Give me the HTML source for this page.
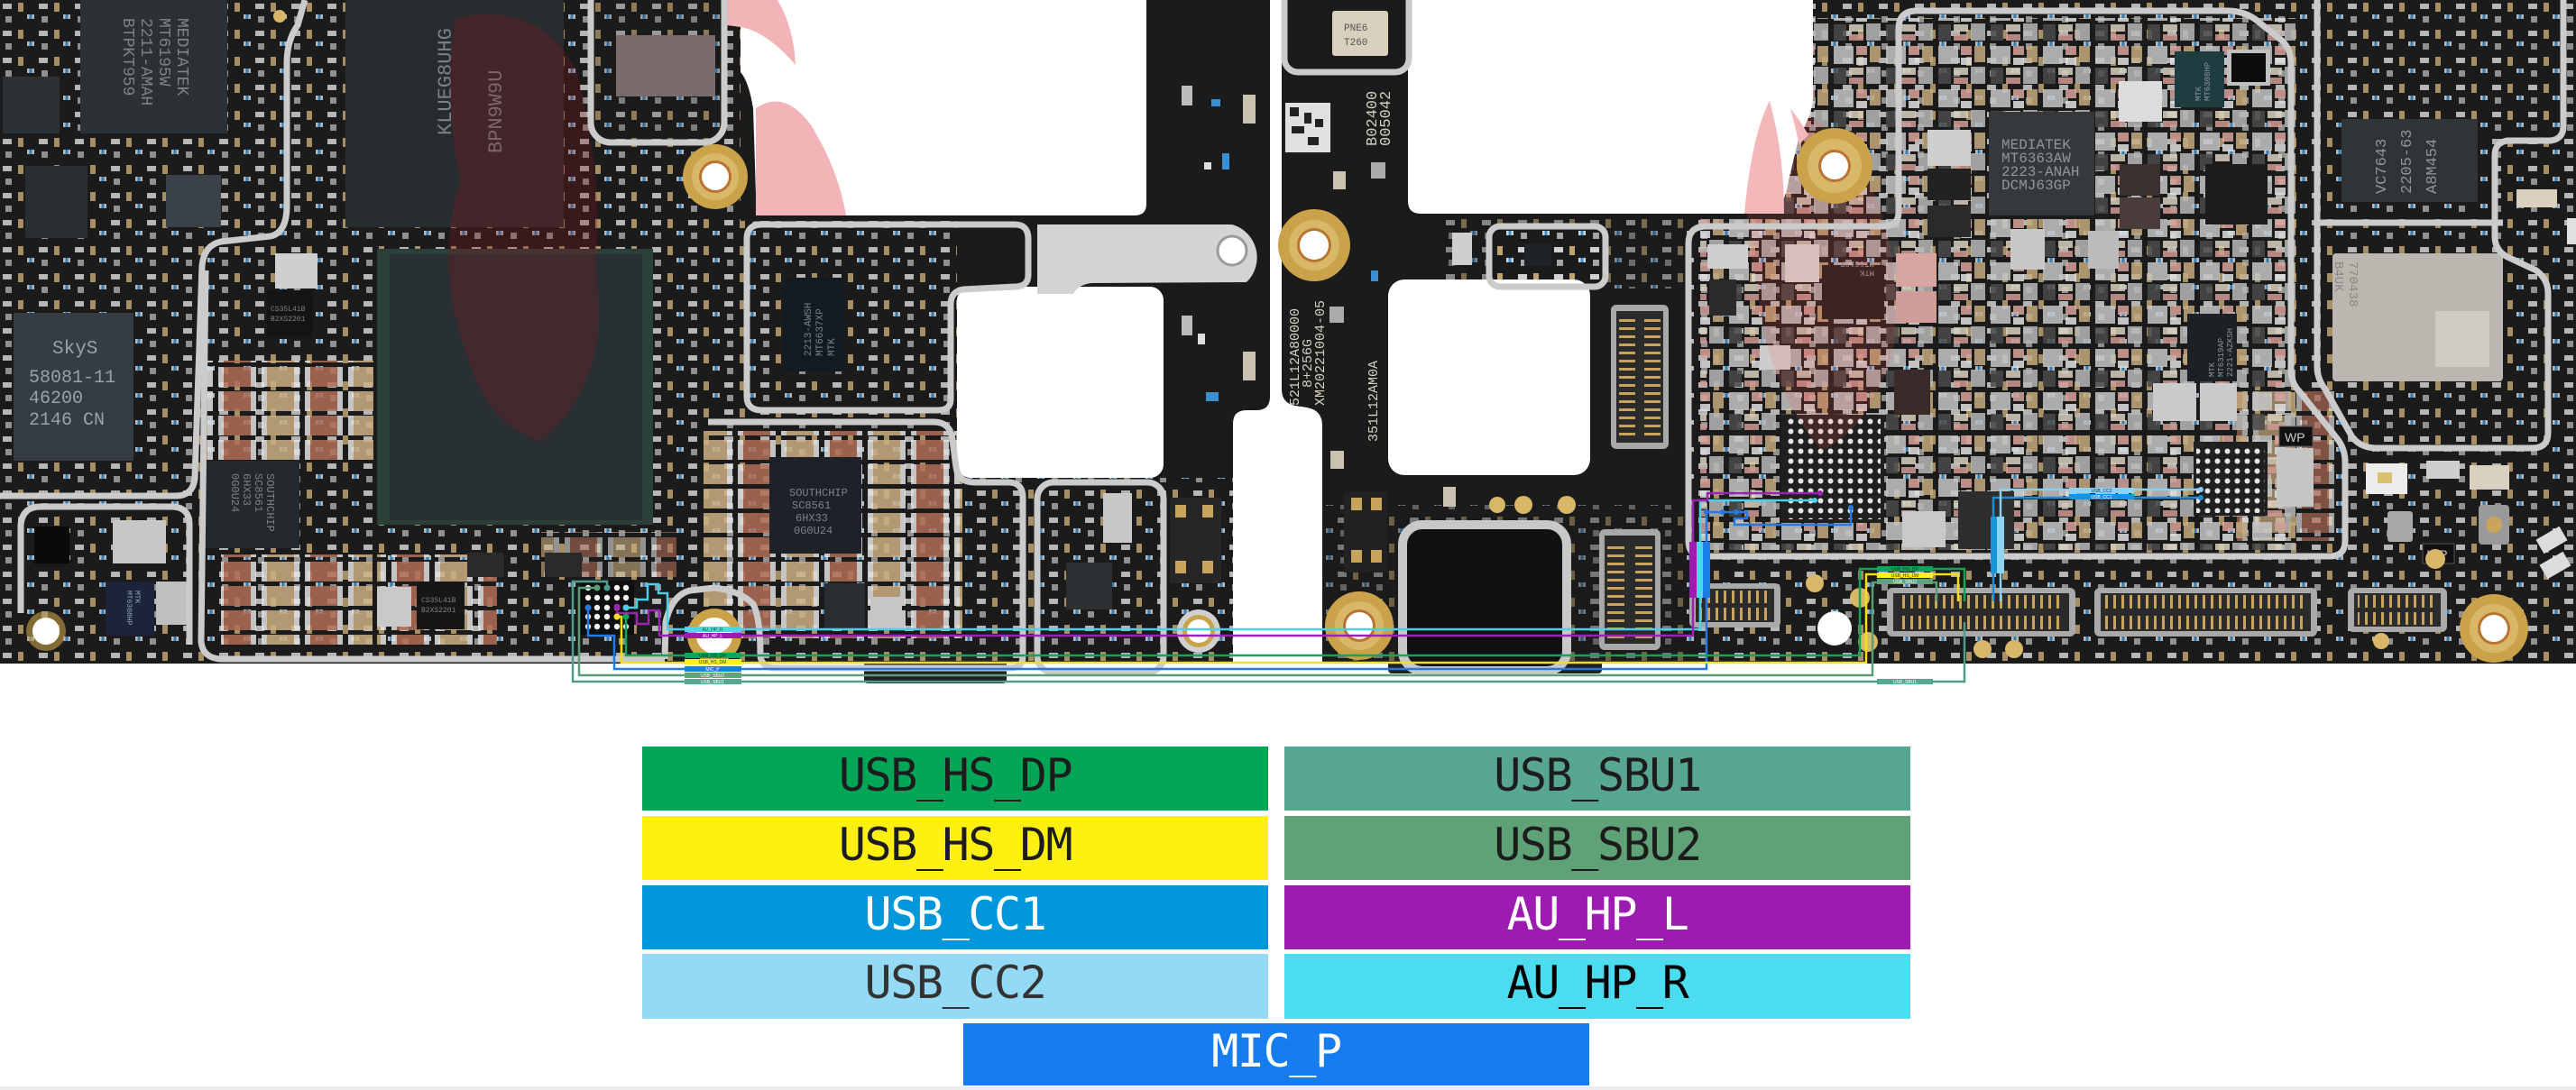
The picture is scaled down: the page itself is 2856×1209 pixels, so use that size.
<!DOCTYPE html>
<html>
<head>
<meta charset="utf-8">
<style>
html,body{margin:0;padding:0;background:#fff;}
body{width:2856px;height:1209px;position:relative;overflow:hidden;}
svg{position:absolute;left:0;top:0;}
.lg{position:absolute;width:694px;height:71px;display:flex;align-items:center;justify-content:center;font-family:"DejaVu Sans Mono","Liberation Mono",monospace;font-size:50px;letter-spacing:-1.4px;white-space:nowrap;}
.lg span{position:relative;top:-4px;}
.band{position:absolute;left:0;top:1205px;width:2856px;height:4px;background:#ececec;}
</style>
</head>
<body>
<svg width="2856" height="780" viewBox="0 0 2856 780" xmlns="http://www.w3.org/2000/svg">
<defs>
<pattern id="ps" width="40" height="30" patternUnits="userSpaceOnUse">
 <rect x="3" y="4" width="10" height="6" fill="#cfcfcf"/>
 <rect x="20" y="3" width="6" height="10" fill="#bfa272"/>
 <rect x="30" y="16" width="8" height="5" fill="#d5d5d5"/><rect x="32.5" y="16" width="3" height="5" fill="#3a8fd0"/>
 <rect x="6" y="18" width="7" height="7" fill="#a5a5a5"/>
</pattern>
<pattern id="pc" width="96" height="27" patternUnits="userSpaceOnUse">
 <rect x="2" y="2" width="42" height="22" fill="#cdb083"/><rect x="2" y="2" width="6" height="22" fill="#e6e6e6"/><rect x="38" y="2" width="6" height="22" fill="#e6e6e6"/>
 <rect x="50" y="2" width="42" height="22" fill="#b06e58"/><rect x="50" y="2" width="6" height="22" fill="#e2e2e2"/><rect x="86" y="2" width="6" height="22" fill="#e2e2e2"/>
</pattern>
<pattern id="pd" width="58" height="48" patternUnits="userSpaceOnUse">
 <rect x="3" y="3" width="22" height="20" fill="#c6c6c6"/>
 <rect x="28" y="3" width="12" height="10" fill="#d6a39e"/>
 <rect x="43" y="3" width="12" height="18" fill="#c4aa80"/>
 <rect x="28" y="16" width="12" height="8" fill="#e0e0e0"/>
 <rect x="3" y="27" width="14" height="18" fill="#4a4a4a"/>
 <rect x="20" y="27" width="16" height="8" fill="#d8cfbc"/>
 <rect x="20" y="38" width="16" height="7" fill="#cf9a95"/>
 <rect x="39" y="26" width="16" height="19" fill="#b8b8b8"/>
</pattern>
<pattern id="pinH" width="9" height="16" patternUnits="userSpaceOnUse"><rect x="3" y="0" width="3" height="16" fill="#c9a45c"/></pattern>
<pattern id="pinV" width="16" height="9" patternUnits="userSpaceOnUse"><rect x="0" y="3" width="16" height="3" fill="#c9a45c"/></pattern>
<pattern id="bga" width="11" height="11" patternUnits="userSpaceOnUse"><circle cx="5.5" cy="5.5" r="3" fill="#e6e6e6"/></pattern>
</defs>

<!-- board bases -->
<path d="M0,0 H1408 V440 Q1408,455 1393,455 H1382 Q1367,455 1367,470 V736 H0 Z" fill="#1b1b1b"/>
<rect x="958" y="728" width="158" height="30" rx="4" fill="#222"/>
<path d="M1421,0 H2856 V736 H1466 V472 Q1466,455 1449,452 L1436,450 Q1421,447 1421,432 Z" fill="#1b1b1b"/>
<rect x="1539" y="728" width="237" height="19" rx="4" fill="#222"/>

<!-- component texture -->
<g opacity="0.85">
<rect x="0" y="0" width="821" height="736" fill="url(#ps)"/>
<rect x="821" y="245" width="240" height="491" fill="url(#ps)"/>
<rect x="1061" y="530" width="306" height="206" fill="url(#ps)"/>
<rect x="1870" y="0" width="986" height="736" fill="url(#ps)"/>
<rect x="1466" y="560" width="404" height="176" fill="url(#ps)" opacity="0.6"/>
<rect x="1600" y="240" width="270" height="80" fill="url(#ps)" opacity="0.7"/>
</g>
<g opacity="0.85">
<rect x="224" y="400" width="190" height="110" fill="url(#pc)"/>
<rect x="245" y="615" width="168" height="100" fill="url(#pc)"/>
<rect x="418" y="615" width="133" height="100" fill="url(#pc)"/>
<rect x="780" y="478" width="287" height="230" fill="url(#pc)"/>
<rect x="600" y="590" width="150" height="50" fill="url(#pc)" opacity="0.7"/>
<rect x="2480" y="430" width="110" height="170" fill="url(#pc)" opacity="0.8"/>
</g>
<rect x="1885" y="20" width="660" height="590" fill="url(#pd)" opacity="0.85"/>

<!-- left board chips -->
<rect x="89" y="0" width="163" height="148" fill="#2c3135"/>
<rect x="3" y="85" width="63" height="63" fill="#2c3135"/>
<rect x="383" y="0" width="242" height="252" fill="#272c2e"/>
<rect x="28" y="184" width="69" height="80" fill="#2a2f33"/>
<rect x="184" y="194" width="61" height="58" fill="#3a4149"/>
<rect x="15" y="347" width="133" height="164" fill="#353c43"/>
<rect x="418" y="276" width="306" height="306" fill="#2c4038"/>
<rect x="432" y="282" width="280" height="295" fill="#283033"/>
<rect x="224" y="511" width="108" height="97" fill="#24292d"/>
<rect x="296" y="322" width="51" height="53" fill="#151515"/>
<rect x="305" y="281" width="47" height="39" fill="#cfcfcf"/>
<rect x="655" y="0" width="148" height="158" fill="#1b1b1b"/>
<rect x="655" y="0" width="148" height="158" fill="url(#ps)" opacity="0.7"/>
<rect x="683" y="39" width="110" height="68" fill="#7a6a6c"/>
<rect x="117" y="645" width="54" height="60" fill="#1b2438"/>
<rect x="125" y="577" width="59" height="48" fill="#c6c6c6"/>
<rect x="173" y="645" width="38" height="48" fill="#bfbfbf"/>
<rect x="38" y="584" width="39" height="41" fill="#0a0a0a"/>
<rect x="462" y="645" width="53" height="53" fill="#161616"/>
<rect x="418" y="651" width="38" height="44" fill="#c9c9c9"/>
<rect x="518" y="613" width="41" height="27" fill="#2a2a2a"/>
<rect x="604" y="613" width="41" height="27" fill="#2a2a2a"/>
<rect x="869" y="308" width="67" height="104" fill="#101b24"/>
<rect x="853" y="507" width="102" height="107" fill="#1c2227"/>
<rect x="914" y="647" width="45" height="50" fill="#2a2e33"/>
<rect x="965" y="662" width="35" height="35" fill="#c6c6c6"/>
<rect x="1182" y="624" width="51" height="52" fill="#2c3033"/>
<rect x="1223" y="547" width="32" height="55" fill="#c8c8c8"/>
<rect x="1297" y="552" width="57" height="95" fill="#262626"/>
<rect x="1303" y="560" width="12" height="14" fill="#c9a45c"/><rect x="1333" y="560" width="12" height="14" fill="#c9a45c"/>
<rect x="1303" y="622" width="12" height="14" fill="#c9a45c"/><rect x="1333" y="622" width="12" height="14" fill="#c9a45c"/>
<!-- sparse strip parts -->
<rect x="1310" y="95" width="12" height="22" fill="#bcbcbc"/><rect x="1378" y="105" width="14" height="32" fill="#c9c2b0"/>
<rect x="1343" y="110" width="10" height="8" fill="#3a8fd0"/><rect x="1355" y="170" width="8" height="18" fill="#3a8fd0"/>
<rect x="1310" y="350" width="12" height="22" fill="#bcbcbc"/><rect x="1378" y="390" width="14" height="32" fill="#c9c2b0"/>
<rect x="1337" y="435" width="14" height="10" fill="#3a8fd0"/>
<rect x="1328" y="370" width="8" height="12" fill="#ddd"/><rect x="1335" y="180" width="8" height="8" fill="#ddd"/>

<!-- chip text left -->
<g font-family="Liberation Mono, monospace" fill="#7b8389">
 <g transform="translate(197,20) rotate(90)" font-size="18"><text x="0" y="0">MEDIATEK</text><text x="0" y="20">MT6195W</text><text x="0" y="40">2211-AMAH</text><text x="0" y="60">BTPKT959</text></g>
 <g transform="translate(500,150) rotate(-90)" font-size="22"><text x="0" y="0">KLUEG8UHG</text><text x="-20" y="56">BPN9W9U</text></g>
 <text x="58" y="392" font-size="21" fill="#9aa1a8">SkyS</text>
 <text x="32" y="424" font-size="20" fill="#9aa1a8">58081-11</text>
 <text x="32" y="447" font-size="20" fill="#9aa1a8">46200</text>
 <text x="32" y="471" font-size="20" fill="#9aa1a8">2146 CN</text>
 <g transform="translate(296,525) rotate(90)" font-size="12"><text x="0" y="0">SOUTHCHIP</text><text x="0" y="13">SC8561</text><text x="0" y="26">6HX33</text><text x="0" y="39">0G0U24</text></g>
 <text x="875" y="550" font-size="12">SOUTHCHIP</text><text x="878" y="564" font-size="12">SC8561</text><text x="882" y="578" font-size="12">6HX33</text><text x="880" y="592" font-size="12">0G0U24</text>
 <g transform="translate(925,395) rotate(-90)" font-size="11"><text x="0" y="0">MTK</text><text x="0" y="-13">MT6637XP</text><text x="0" y="-26">2213-AWSH</text></g>
 <text x="300" y="345" font-size="8">CS35L41B</text><text x="300" y="356" font-size="8">B2XS2201</text>
 <text x="467" y="668" font-size="8">CS35L41B</text><text x="467" y="679" font-size="8">B2XS2201</text>
 <g transform="translate(150,655) rotate(90)" font-size="8" fill="#9aa6c0"><text x="0" y="0">MTK</text><text x="0" y="9">MT6308HP</text></g>
</g>

<!-- right board chips -->
<rect x="1424" y="0" width="138" height="80" fill="#1b1b1b"/>
<rect x="1477" y="12" width="62" height="50" rx="3" fill="#d9d0bd"/>
<text x="1490" y="34" font-family="Liberation Mono, monospace" font-size="11" fill="#555">PNE6</text>
<text x="1490" y="50" font-family="Liberation Mono, monospace" font-size="11" fill="#555">T260</text>
<rect x="1425" y="114" width="50" height="55" fill="#e0e0e0"/>
<rect x="1430" y="119" width="10" height="10" fill="#222"/><rect x="1446" y="125" width="8" height="12" fill="#222"/><rect x="1432" y="140" width="14" height="8" fill="#222"/><rect x="1458" y="132" width="9" height="9" fill="#222"/><rect x="1450" y="152" width="12" height="9" fill="#222"/>
<g font-family="Liberation Mono, monospace" fill="#d6d3c0">
 <g transform="translate(1526,162) rotate(-90)" font-size="17"><text x="0" y="0">B02400</text><text x="0" y="15">005042</text></g>
 <g transform="translate(1440,450) rotate(-90)" font-size="15"><text x="0" y="0">521L12A80000</text><text x="20" y="14">8+256G</text><text x="0" y="28">XM20221004-05</text></g>
 <g transform="translate(1527,490) rotate(-90)" font-size="15"><text x="0" y="0">351L12AM0A</text></g>
</g>
<rect x="1478" y="190" width="14" height="20" fill="#c9c2b0"/><rect x="1520" y="180" width="16" height="18" fill="#aaa"/>
<rect x="1474" y="340" width="16" height="18" fill="#aaa"/><rect x="1520" y="300" width="8" height="12" fill="#3a8fd0"/>
<rect x="1475" y="500" width="15" height="20" fill="#c9c2b0"/><rect x="1600" y="540" width="14" height="22" fill="#c9c2b0"/>
<rect x="1490" y="545" width="48" height="90" fill="#222"/>
<rect x="1498" y="552" width="12" height="14" fill="#c9a45c"/><rect x="1520" y="552" width="12" height="14" fill="#c9a45c"/>
<rect x="1498" y="610" width="12" height="14" fill="#c9a45c"/><rect x="1520" y="610" width="12" height="14" fill="#c9a45c"/>
<rect x="1651" y="251" width="129" height="67" fill="#1b1b1b"/><rect x="1651" y="251" width="129" height="67" fill="url(#ps)"/>
<rect x="1690" y="270" width="30" height="25" fill="#1f2226"/>
<rect x="1610" y="258" width="22" height="36" fill="#cfcfcf"/>

<rect x="2205" y="124" width="117" height="115" fill="#36393c"/>
<rect x="2411" y="57" width="55" height="62" fill="#1f3c41"/>
<rect x="2469" y="55" width="48" height="40" fill="#c0c0c0"/><rect x="2474" y="59" width="38" height="32" fill="#0c0c0c"/>
<rect x="2596" y="132" width="151" height="92" fill="#2f3436"/>
<rect x="2586" y="281" width="189" height="142" rx="4" fill="#bab6b0"/>
<rect x="2700" y="345" width="60" height="62" fill="#cfcbc4"/>
<rect x="2425" y="348" width="55" height="75" fill="#1d2125"/>
<rect x="2020" y="294" width="69" height="60" fill="#1a1a1a"/>
<rect x="1975" y="460" width="114" height="120" fill="#202020"/><rect x="1979" y="464" width="106" height="112" fill="url(#bga)"/>
<rect x="2432" y="490" width="82" height="82" fill="#202020"/><rect x="2435" y="493" width="76" height="76" fill="url(#bga)"/>
<rect x="2445" y="182" width="69" height="67" fill="#1c1c1c"/>
<rect x="2171" y="545" width="62" height="64" fill="#2e2e2e"/>
<rect x="2524" y="497" width="41" height="65" fill="#c5c5c5"/>
<rect x="2137" y="144" width="48" height="40" fill="#cfcfcf"/>
<rect x="2349" y="90" width="48" height="45" fill="#dcdcdc"/>
<rect x="2109" y="567" width="48" height="40" fill="#c9c9c9"/>
<rect x="2387" y="425" width="48" height="42" fill="#cacaca"/>
<rect x="2439" y="425" width="41" height="42" fill="#cacaca"/>
<rect x="1951" y="383" width="34" height="27" fill="#cdcdcd"/>
<rect x="1893" y="271" width="45" height="27" fill="#cfcfcf"/>
<rect x="1979" y="271" width="38" height="42" fill="#d2d2d2"/>
<rect x="2137" y="187" width="48" height="35" fill="#222"/>
<rect x="2137" y="228" width="48" height="35" fill="#2a2a2a"/>
<rect x="2350" y="182" width="45" height="35" fill="#3a3030"/>
<rect x="2350" y="219" width="45" height="35" fill="#4a3c3c"/>
<rect x="2102" y="281" width="45" height="37" fill="#d8a4a0"/>
<rect x="2102" y="323" width="45" height="35" fill="#cf9c98"/>
<rect x="2100" y="410" width="40" height="50" fill="#3a2a2a"/>
<rect x="2229" y="254" width="38" height="45" fill="#c8c8c8"/>
<rect x="2315" y="256" width="34" height="42" fill="#bbbbbb"/>
<rect x="1895" y="310" width="30" height="40" fill="#2a2a2a"/>
<g font-family="Liberation Mono, monospace" fill="#8f969c">
 <text x="2219" y="165" font-size="16">MEDIATEK</text>
 <text x="2219" y="180" font-size="16">MT6363AW</text>
 <text x="2219" y="195" font-size="16">2223-ANAH</text>
 <text x="2219" y="210" font-size="16">DCMJ63GP</text>
 <g transform="translate(2645,215) rotate(-90)" font-size="17"><text x="0" y="0">VC7643</text><text x="0" y="28">2205-63</text><text x="0" y="56">A8M454</text></g>
 <g transform="translate(2605,290) rotate(90)" font-size="14" fill="#8a8680"><text x="0" y="0">770438</text><text x="0" y="16">B4UK</text></g>
 <g transform="translate(2455,418) rotate(-90)" font-size="9"><text x="0" y="0">MTK</text><text x="0" y="10">MT6319AP</text><text x="0" y="20">2221-AZKSH</text></g>
 <g transform="translate(2440,112) rotate(-90)" font-size="9"><text x="0" y="0">MTK</text><text x="0" y="10">MT6308HP</text></g>
 <g transform="translate(2078,300) rotate(180)" font-size="9"><text x="0" y="0">MTK</text><text x="0" y="10">MT6319P</text></g>
</g>
<!-- right area small parts -->
<rect x="2527" y="473" width="37" height="22" fill="#111" stroke="#555"/><text x="2533" y="490" font-family="Liberation Sans, sans-serif" font-size="14" fill="#ccc">WP</text>
<rect x="2686" y="603" width="35" height="22" fill="#111" stroke="#555"/><text x="2691" y="620" font-family="Liberation Sans, sans-serif" font-size="14" fill="#ccc">WP</text>
<rect x="2623" y="514" width="46" height="34" fill="#ececec"/><rect x="2636" y="524" width="16" height="12" fill="#d8c070"/>
<rect x="2738" y="516" width="44" height="27" fill="#d8d0c0"/>
<rect x="2690" y="511" width="37" height="20" fill="#cfcfcf"/>
<rect x="2748" y="560" width="34" height="44" rx="4" fill="#9a9a9a"/><circle cx="2765" cy="582" r="9" fill="#c9a45c"/>
<rect x="2647" y="567" width="28" height="34" rx="3" fill="#a8a8a8"/>
<rect x="2814" y="590" width="30" height="18" fill="#dcdcdc" transform="rotate(-30 2829 599)"/>
<rect x="2818" y="618" width="30" height="18" fill="#dcdcdc" transform="rotate(-30 2833 627)"/>
<rect x="2846" y="242" width="10" height="29" fill="#e0e0e0"/>
<rect x="2790" y="210" width="45" height="20" fill="#d9d0bd"/>

<!-- connectors -->
<g>
 <rect x="1786" y="338" width="64" height="160" rx="6" fill="#a9a9a9"/><rect x="1792" y="345" width="52" height="146" fill="#2b2b2b"/>
 <rect x="1795" y="352" width="18" height="132" fill="url(#pinV)"/><rect x="1823" y="352" width="18" height="132" fill="url(#pinV)"/>
 <rect x="1773" y="587" width="68" height="134" rx="6" fill="#a9a9a9"/><rect x="1779" y="594" width="56" height="120" fill="#2b2b2b"/>
 <rect x="1782" y="600" width="19" height="108" fill="url(#pinV)"/><rect x="1813" y="600" width="19" height="108" fill="url(#pinV)"/>
 <rect x="1873" y="647" width="101" height="49" rx="6" fill="#a9a9a9"/><rect x="1880" y="653" width="87" height="37" fill="#2b2b2b"/>
 <rect x="1884" y="655" width="79" height="14" fill="url(#pinH)"/><rect x="1884" y="674" width="79" height="14" fill="url(#pinH)"/>
 <rect x="2092" y="652" width="209" height="54" rx="6" fill="#a9a9a9"/><rect x="2099" y="658" width="195" height="42" fill="#2b2b2b"/>
 <rect x="2104" y="660" width="185" height="15" fill="url(#pinH)"/><rect x="2104" y="683" width="185" height="15" fill="url(#pinH)"/>
 <rect x="2322" y="652" width="247" height="54" rx="6" fill="#a9a9a9"/><rect x="2329" y="658" width="233" height="42" fill="#2b2b2b"/>
 <rect x="2334" y="660" width="223" height="15" fill="url(#pinH)"/><rect x="2334" y="683" width="223" height="15" fill="url(#pinH)"/>
 <rect x="2603" y="652" width="110" height="49" rx="6" fill="#a9a9a9"/><rect x="2610" y="658" width="96" height="37" fill="#2b2b2b"/>
 <rect x="2614" y="660" width="88" height="14" fill="url(#pinH)"/><rect x="2614" y="679" width="88" height="14" fill="url(#pinH)"/>
</g>

<!-- watermark tint on boards -->
<path d="M505,20 Q600,0 640,80 Q670,200 660,300 Q680,420 600,490 Q540,470 520,400 Q480,300 510,200 Q490,100 505,20 Z" fill="#8a1a20" opacity="0.28"/>
<path d="M1935,115 Q2000,100 2060,180 Q2110,260 2100,380 Q2080,470 2020,500 Q1960,430 1950,330 Q1930,230 1935,115 Z" fill="#ff5a5a" opacity="0.16"/>

<!-- cutouts -->
<path d="M821,0 H1271 V226 Q1271,239 1258,239 H865 Q840,239 838,215 L835,120 Q830,90 821,80 Z" fill="#fff"/>
<rect x="1061" y="318" width="229" height="212" rx="15" fill="#fff"/>
<path d="M1150,249 H1366 A38,38 0 0 1 1382,313 L1210,314 Q1195,316 1190,326 H1150 Z" fill="#d3d3d3"/>
<circle cx="1366" cy="278" r="16" fill="#fff" stroke="#9a9a9a" stroke-width="3"/>
<path d="M1561,0 H2010 V110 Q2008,130 1995,150 L1983,200 Q1978,237 1955,237 H1575 Q1561,237 1561,223 Z" fill="#fff"/>
<rect x="1539" y="310" width="224" height="217" rx="18" fill="#fff"/>
<!-- pink watermark in white -->
<path d="M806,0 L862,0 Q880,30 882,72 Q850,35 821,30 L806,28 Z" fill="#f2b4b6"/>
<path d="M838,120 Q870,98 900,140 Q930,190 938,239 L838,239 Z" fill="#f2b4b6"/>
<path d="M1962,112 Q1942,150 1934,237 L1978,237 Q1978,170 1962,112 Z" fill="#f3b8b9"/>
<path d="M1985,120 Q2000,140 2005,150 L1995,160 Z" fill="#f3b8b9"/>

<!-- shields -->
<g fill="none" stroke="#cbcbcb" stroke-width="7" stroke-linejoin="round">
 <path d="M338,0 L330,28 Q318,45 318,70 L318,228 Q318,258 300,262 L245,268 Q226,272 224,295 L216,530 Q214,550 195,550 L0,550"/>
 <path d="M23,680 L23,582 Q25,562 45,562 L190,562 Q210,562 210,582 L210,715"/>
 <path d="M228,300 L223,712 Q225,730 245,731 L737,731"/>
 <path d="M737,731 L738,690 Q745,660 765,655 L792,652 Q820,655 835,670 Q843,685 843,728 Q845,741 860,741 L1120,741 Q1134,741 1134,728 L1134,552 Q1134,535 1118,535 L1080,535 Q1062,535 1060,518 L1056,488 Q1054,468 1035,468 L785,468"/>
 <rect x="655" y="-20" width="148" height="178" rx="22"/>
 <path d="M837,249 L1125,249 Q1140,249 1140,265 L1140,305 Q1140,318 1125,318 L1068,321 Q1054,323 1054,338 L1054,443 Q1054,455 1040,455 L845,455 Q828,455 828,440 L828,265 Q828,249 845,249 Z"/>
 <rect x="1150" y="535" width="140" height="211" rx="18"/>
 <path d="M1872,600 V270 Q1872,251 1892,251 H2088 Q2105,251 2105,235 V32 Q2105,12 2125,12 H2470 Q2490,12 2505,25 L2530,45 Q2540,55 2540,70 V410 Q2540,425 2550,435 L2590,485 Q2600,497 2600,512 V600 Q2600,617 2583,617 H1889 Q1872,617 1872,600 Z"/>
 <path d="M2569,0 V407 Q2569,420 2578,432 L2608,485 Q2618,497 2635,497 H2808 Q2825,497 2825,480 V325 Q2825,310 2812,300 L2780,285 Q2766,278 2766,262 V172 Q2766,158 2780,156 H2828 Q2842,154 2842,140 V0"/>
 <path d="M2569,247 H2775"/>
 <rect x="1424" y="-20" width="138" height="100" rx="15"/>
 <rect x="1651" y="251" width="129" height="67" rx="12"/>
</g>
<rect x="1555" y="582" width="182" height="162" rx="22" fill="#111" stroke="#c8c8c8" stroke-width="10"/>

<!-- mounting holes -->
<g>
 <circle cx="793" cy="196" r="36" fill="#c9a24a"/><circle cx="793" cy="196" r="26" fill="#d8b868"/><circle cx="793" cy="196" r="18" fill="#b87333"/><circle cx="793" cy="196" r="15" fill="#fff"/>
 <circle cx="1457" cy="272" r="40" fill="#c9a24a"/><circle cx="1457" cy="272" r="28" fill="#d8b868"/><circle cx="1457" cy="272" r="19" fill="#b87333"/><circle cx="1457" cy="272" r="16" fill="#fff"/>
 <circle cx="2034" cy="184" r="42" fill="#c9a24a"/><circle cx="2034" cy="184" r="30" fill="#d8b868"/><circle cx="2034" cy="184" r="18" fill="#b87333"/><circle cx="2034" cy="184" r="15" fill="#fff"/>
 <circle cx="1507" cy="694" r="38" fill="#c9a24a"/><circle cx="1507" cy="694" r="27" fill="#d8b868"/><circle cx="1507" cy="694" r="18" fill="#b87333"/><circle cx="1507" cy="694" r="15" fill="#fff"/>
 <circle cx="2765" cy="697" r="38" fill="#c9a24a"/><circle cx="2765" cy="697" r="27" fill="#d8b868"/><circle cx="2765" cy="697" r="18" fill="#b87333"/><circle cx="2765" cy="697" r="15" fill="#fff"/>
 <circle cx="51" cy="700" r="22" fill="#c9a24a" opacity="0.6"/><circle cx="51" cy="700" r="15" fill="#fff"/>
 <circle cx="792" cy="705" r="30" fill="#c9a24a"/><circle cx="792" cy="705" r="20" fill="#fff"/>
 <circle cx="1329" cy="700" r="24" fill="#d0d0d0"/><circle cx="1329" cy="700" r="18" fill="#c9a24a"/><circle cx="1329" cy="700" r="13" fill="#fff"/>
 <circle cx="2062" cy="663" r="11" fill="#d8b868"/><circle cx="2071" cy="712" r="11" fill="#d8b868"/><circle cx="2034" cy="697" r="19" fill="#fff"/>
 <circle cx="2012" cy="647" r="10" fill="#d8b868"/><circle cx="2198" cy="720" r="10" fill="#d8b868"/><circle cx="2233" cy="720" r="10" fill="#d8b868"/>
 <circle cx="1689" cy="560" r="10" fill="#d8b868"/><circle cx="1737" cy="560" r="10" fill="#d8b868"/><circle cx="1660" cy="560" r="9" fill="#d8b868"/>
 <circle cx="2700" cy="620" r="11" fill="#d8b868"/><circle cx="2640" cy="711" r="9" fill="#d8b868"/>
 <circle cx="310" cy="18" r="7" fill="#d8b868"/>
</g>

<!-- small BGA left -->
<rect x="643" y="644" width="60" height="60" fill="#0e0e0e"/>
<g fill="#f0f0f0">
 <circle cx="652" cy="652" r="3.2"/><circle cx="662" cy="652" r="3.2"/><circle cx="673" cy="652" r="3.2"/><circle cx="684" cy="652" r="3.2"/><circle cx="694" cy="652" r="3.2"/>
 <circle cx="652" cy="663" r="3.2"/><circle cx="662" cy="663" r="3.2"/><circle cx="673" cy="663" r="3.2"/><circle cx="684" cy="663" r="3.2"/><circle cx="694" cy="663" r="3.2"/>
 <circle cx="652" cy="674" r="3.2"/><circle cx="662" cy="674" r="3.2"/><circle cx="673" cy="674" r="3.2"/><circle cx="684" cy="674" r="3.2"/><circle cx="694" cy="674" r="3.2"/>
 <circle cx="652" cy="684" r="3.2"/><circle cx="662" cy="684" r="3.2"/><circle cx="673" cy="684" r="3.2"/><circle cx="684" cy="684" r="3.2"/><circle cx="694" cy="684" r="3.2"/>
 <circle cx="652" cy="695" r="3.2"/><circle cx="662" cy="695" r="3.2"/><circle cx="673" cy="695" r="3.2"/><circle cx="684" cy="695" r="3.2"/><circle cx="694" cy="695" r="3.2"/>
</g>

<!-- traces -->
<g fill="none" stroke-width="2.5" stroke-linejoin="miter">
 <path d="M673,652 V645 H635 V756 H2178 V690" stroke="#4e9c89"/>
 <path d="M662,652 H642 V749 H2076 V646 H2147 V667" stroke="#5b9d77"/>
 <path d="M652,674 V705 H681 V742 H1892 V568 H1937 V575 H1923 V582 H2052 V563" stroke="#2479e2"/>
 <path d="M684,684 H689 V735 H2069 V637 H2171 V667" stroke="#f2e01e"/>
 <path d="M694,684 V727 H2062 V631 H2178 V667" stroke="#12a55a"/>
 <path d="M694,674 H706 V665 H718 V648 H730 V658 H740 V698 H1885 V555 H2012" stroke="#4bcfe8"/>
 <path d="M684,673 V680 H706 V692 H719 V677 H731 V705 H1877 V555 H1893 V547 H2018" stroke="#9b22b3"/>
 <path d="M2210,667 V552 H2440" stroke="#1b8fd6"/>
 <path d="M2218,667 V543 H2440" stroke="#8ccff0"/>
</g>
<g>
 <circle cx="662" cy="652" r="3.5" fill="#5b9d77"/><circle cx="673" cy="652" r="3.5" fill="#4e9c89"/>
 <circle cx="652" cy="674" r="3.5" fill="#2479e2"/><circle cx="684" cy="673" r="3.5" fill="#9b22b3"/><circle cx="694" cy="674" r="3.5" fill="#4bcfe8"/>
 <circle cx="684" cy="684" r="3.5" fill="#f2e01e"/><circle cx="694" cy="684" r="3.5" fill="#12a55a"/>
 <circle cx="2012" cy="555" r="3" fill="#4bcfe8"/><circle cx="2018" cy="547" r="3" fill="#9b22b3"/><circle cx="2052" cy="563" r="3" fill="#2479e2"/>
 <circle cx="1892" cy="568" r="3" fill="#2479e2"/><circle cx="1910" cy="568" r="3" fill="#2479e2"/><circle cx="1925" cy="568" r="3" fill="#2479e2"/>
 <circle cx="2440" cy="552" r="3" fill="#1b8fd6"/><circle cx="2440" cy="543" r="3" fill="#8ccff0"/>
</g>

<!-- small label boxes -->
<g font-family="Liberation Sans, sans-serif" font-size="5" text-anchor="middle">
 <rect x="759" y="695" width="63" height="6" fill="#4fd6ee"/><text x="790" y="700" fill="#155">AU_HP_R</text>
 <rect x="759" y="702" width="63" height="6" fill="#9c1cb2"/><text x="790" y="707" fill="#fff">AU_HP_L</text>
 <rect x="759" y="724" width="63" height="6" fill="#0aa556"/><text x="790" y="729" fill="#033">USB_HS_DP</text>
 <rect x="759" y="731" width="63" height="6" fill="#fff01a"/><text x="790" y="736" fill="#333">USB_HS_DM</text>
 <rect x="759" y="739" width="63" height="6" fill="#1a7ee8"/><text x="790" y="744" fill="#fff">MIC_P</text>
 <rect x="759" y="746" width="63" height="6" fill="#5fa378"/><text x="790" y="751" fill="#fff">USB_SBU2</text>
 <rect x="759" y="753" width="63" height="6" fill="#58a793"/><text x="790" y="758" fill="#fff">USB_SBU1</text>
 <rect x="2081" y="628" width="62" height="6" fill="#0aa556"/><text x="2112" y="633" fill="#033">USB_HS_DP</text>
 <rect x="2081" y="635" width="62" height="6" fill="#fff01a"/><text x="2112" y="640" fill="#333">USB_HS_DM</text>
 <rect x="2081" y="642" width="62" height="6" fill="#5fa378"/><text x="2112" y="647" fill="#fff">USB_SBU2</text>
 <rect x="2081" y="753" width="62" height="6" fill="#58a793"/><text x="2112" y="758" fill="#fff">USB_SBU1</text>
 <rect x="2294" y="541" width="72" height="6" fill="#8fd3f2"/><text x="2330" y="546" fill="#134">USB_CC2</text>
 <rect x="2294" y="548" width="72" height="6" fill="#1a93d8"/><text x="2330" y="553" fill="#fff">USB_CC1</text>
 <rect x="1873" y="601" width="8" height="62" fill="#9c1cb2"/>
 <rect x="1881" y="601" width="7" height="62" fill="#4fd6ee"/>
 <rect x="1888" y="601" width="8" height="62" fill="#1a7ee8"/>
 <rect x="2207" y="573" width="7" height="63" fill="#1a93d8"/>
 <rect x="2214" y="573" width="8" height="63" fill="#8fd3f2"/>
</g>
</svg>

<div class="lg" style="left:712px;top:828px;background:#00a556;color:#1c1c1c;"><span>USB_HS_DP</span></div>
<div class="lg" style="left:1424px;top:828px;background:#57a692;color:#1c1c1c;"><span>USB_SBU1</span></div>
<div class="lg" style="left:712px;top:905px;background:#fff012;color:#1c1c1c;"><span>USB_HS_DM</span></div>
<div class="lg" style="left:1424px;top:905px;background:#5fa277;color:#1c1c1c;"><span>USB_SBU2</span></div>
<div class="lg" style="left:712px;top:982px;background:#0096da;color:#ffffff;"><span>USB_CC1</span></div>
<div class="lg" style="left:1424px;top:982px;background:#9c1bb1;color:#ffffff;"><span>AU_HP_L</span></div>
<div class="lg" style="left:712px;top:1058px;height:72px;background:#94d9f5;color:#333333;"><span>USB_CC2</span></div>
<div class="lg" style="left:1424px;top:1058px;height:72px;background:#4cdcf0;color:#000000;"><span>AU_HP_R</span></div>
<div class="lg" style="left:1068px;top:1135px;height:69px;background:#157df0;color:#ffffff;"><span>MIC_P</span></div>
<div class="band"></div>
</body>
</html>
